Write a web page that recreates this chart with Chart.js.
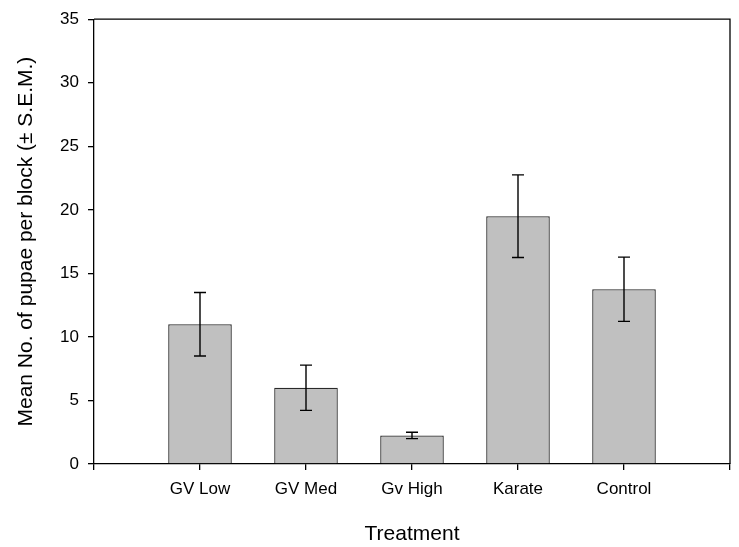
<!DOCTYPE html>
<html>
<head>
<meta charset="utf-8">
<script src="https://cdn.jsdelivr.net/npm/chart.js@4/dist/chart.umd.min.js"></script>
<style>
  html, body { margin: 0; padding: 0; background: #fff; }
  #wrap { width: 739px; height: 547px; }
</style>
</head>
<body>
<div id="wrap"><canvas id="pupae-chart"></canvas></div>
<script>
const treatments = ['GV Low', 'GV Med', 'Gv High', 'Karate', 'Control']
const meanPupae = [11.0, 6.0, 2.25, 19.5, 13.75]
const semPupae = [2.5, 1.78, 0.25, 3.25, 2.53]
const yTicks = [0, 5, 10, 15, 20, 25, 30, 35]

const FONT = 'Arial, "Liberation Sans", sans-serif'

// vertical mean ± SEM whiskers drawn over each bar
const errorBars = {
  id: 'errorBars',
  afterDatasetsDraw(chart) {
    const { ctx, scales } = chart
    const capHalf = 6
    ctx.save()
    ctx.strokeStyle = '#000'
    ctx.lineWidth = 1.4
    treatments.forEach((_, i) => {
      const x = scales.x.getPixelForValue(i + 1)
      const yTop = scales.y.getPixelForValue(meanPupae[i] + semPupae[i])
      const yBot = scales.y.getPixelForValue(meanPupae[i] - semPupae[i])
      ctx.beginPath()
      ctx.moveTo(x, yTop)
      ctx.lineTo(x, yBot)
      ctx.moveTo(x - capHalf, yTop)
      ctx.lineTo(x + capHalf, yTop)
      ctx.moveTo(x - capHalf, yBot)
      ctx.lineTo(x + capHalf, yBot)
      ctx.stroke()
    })
    ctx.restore()
  },
}

// closes the plot with a top and right edge
const frameBox = {
  id: 'frameBox',
  afterDraw(chart) {
    const { ctx, chartArea: a } = chart
    ctx.save()
    ctx.strokeStyle = '#000'
    ctx.lineWidth = 1.3
    ctx.beginPath()
    ctx.moveTo(a.left, a.top)
    ctx.lineTo(a.right, a.top)
    ctx.lineTo(a.right, a.bottom)
    ctx.stroke()
    ctx.restore()
  },
}

initChart()

function initChart() {
  const ctx = document.getElementById('pupae-chart')

  // bars sit at x = 1..5 on a 0..6 axis so there is an empty slot at each end
  const points = treatments.map((name, i) => ({ x: i + 1, y: meanPupae[i] }))

  new Chart(ctx, {
    type: 'bar',
    data: {
      datasets: [
        {
          data: points,
          backgroundColor: '#c0c0c0',
          borderColor: '#2a2a2a',
          borderWidth: 1.3,
          barPercentage: 0.6,
          categoryPercentage: 1,
        },
      ],
    },
    options: {
      responsive: true,
      maintainAspectRatio: false,
      animation: false,
      layout: { padding: { top: 18, right: 8, left: 0, bottom: 0 } },
      plugins: {
        legend: { display: false },
        tooltip: { enabled: false },
      },
      scales: {
        x: {
          type: 'linear',
          min: 0,
          max: 6,
          offset: false,
          afterFit: (s) => { s.height = 83 },
          afterBuildTicks: (s) => {
            s.ticks = [0, 1, 2, 3, 4, 5, 6].map((v) => ({ value: v }))
          },
          ticks: {
            color: '#000',
            padding: 9,
            maxRotation: 0,
            font: { family: FONT, size: 17 },
            callback: (v) => treatments[v - 1] || '',
          },
          grid: {
            offset: false,
            drawOnChartArea: false,
            drawTicks: true,
            tickLength: 6,
            color: '#000',
            lineWidth: 1.3,
          },
          border: { color: '#000', width: 1.3 },
          title: {
            display: true,
            text: 'Treatment',
            color: '#000',
            font: { family: FONT, size: 21 },
            padding: { top: 0, bottom: 0 },
          },
        },
        y: {
          min: 0,
          max: 35,
          afterFit: (s) => { s.width = 94 },
          afterBuildTicks: (s) => {
            s.ticks = yTicks.map((v) => ({ value: v }))
          },
          ticks: {
            color: '#000',
            padding: 9,
            font: { family: FONT, size: 17 },
          },
          grid: {
            drawOnChartArea: false,
            drawTicks: true,
            tickLength: 6,
            color: '#000',
            lineWidth: 1.3,
          },
          border: { color: '#000', width: 1.3 },
          title: {
            display: true,
            text: 'Mean No. of pupae per block (± S.E.M.)',
            color: '#000',
            font: { family: FONT, size: 21 },
            padding: { top: 14, bottom: 0 },
          },
        },
      },
    },
    plugins: [errorBars, frameBox],
  })
}
</script>
</body>
</html>
